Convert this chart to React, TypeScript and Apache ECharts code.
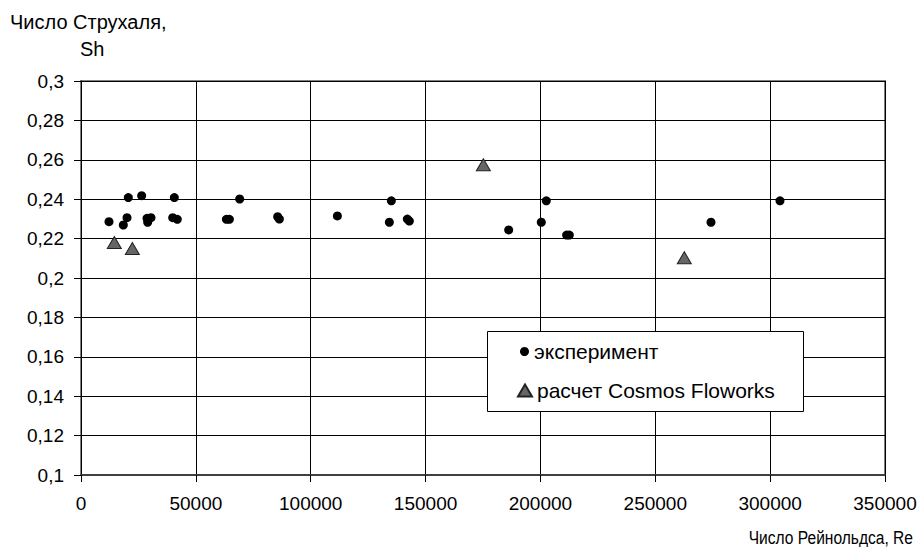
import React, { useEffect, useRef } from "react";
import * as echarts from "echarts";

const expRe = [12190, 18420, 20030, 20600, 26400, 28730, 29030, 30470, 39920, 40630, 41920, 63300, 64600, 69080, 85620, 86350, 111600, 134230, 135100, 142070, 142940, 186180, 200380, 202560, 211400, 212580, 274250, 304290];
const expSh = [0.2286, 0.2269, 0.2306, 0.2408, 0.2418, 0.2303, 0.2283, 0.2306, 0.2306, 0.2408, 0.2298, 0.2298, 0.2298, 0.2401, 0.2311, 0.2299, 0.2315, 0.2283, 0.2392, 0.2299, 0.2289, 0.2244, 0.2283, 0.2392, 0.2218, 0.2218, 0.2283, 0.2392];
const calcRe = [14500, 22340, 175150, 262630];
const calcSh = [0.218, 0.215, 0.2575, 0.2103];

const seriesNames = ["эксперимент", "расчет Cosmos Floworks"];
const yTitle1 = "Число Струхаля,";
const yTitle2 = "Sh";
const xTitle = "Число Рейнольдса, Re";

const FONT = "'Liberation Sans', Arial, Helvetica, sans-serif";
const FS = 19;
const FS_LEG = 21;

export default function App() {
  const ref = useRef<HTMLDivElement>(null);
  useEffect(() => {
    if (!ref.current) return;
    const chart = echarts.init(ref.current, undefined, { renderer: "svg" });
    chart.setOption({
      animation: false,
      backgroundColor: "#ffffff",
      textStyle: { fontFamily: FONT, color: "#000" },
      grid: {
        left: 81,
        top: 81,
        width: 804,
        height: 394,
        show: true,
        borderColor: "#808080",
        borderWidth: 2,
        backgroundColor: "transparent",
      },
      xAxis: {
        type: "value",
        min: 0,
        max: 350000,
        interval: 50000,
        axisLine: { show: true, onZero: false, lineStyle: { color: "#404040", width: 2 } },
        axisTick: { show: true, length: 7, lineStyle: { color: "#000", width: 1 } },
        axisLabel: {
          color: "#000",
          fontSize: FS,
          fontFamily: FONT,
          margin: 19,
          formatter: (v: number) => String(v),
        },
        splitLine: { show: true, lineStyle: { color: "#000", width: 1 } },
      },
      yAxis: {
        type: "value",
        min: 0.1,
        max: 0.3,
        interval: 0.02,
        axisLine: { show: true, onZero: false, lineStyle: { color: "#000", width: 1 } },
        axisTick: { show: true, length: 7, lineStyle: { color: "#000", width: 1 } },
        axisLabel: {
          color: "#000",
          fontSize: FS,
          fontFamily: FONT,
          margin: 17,
          formatter: (v: number) => String(parseFloat(v.toFixed(2))).replace(".", ","),
        },
        splitLine: { show: true, lineStyle: { color: "#000", width: 1 } },
      },
      legend: [
        {
          data: [{ name: seriesNames[0], icon: "circle" }],
          left: 520,
          top: 341,
          padding: 0,
          itemWidth: 9,
          itemHeight: 9,
          itemGap: 0,
          z: 20,
          textStyle: { fontSize: FS_LEG, fontFamily: FONT, color: "#000" },
          selectedMode: false,
        },
        {
          data: [{ name: seriesNames[1], icon: "triangle" }],
          left: 517,
          top: 380,
          padding: 0,
          itemWidth: 14,
          itemHeight: 12,
          itemGap: 0,
          z: 20,
          textStyle: { fontSize: FS_LEG, fontFamily: FONT, color: "#000" },
          selectedMode: false,
        },
      ],
      graphic: [
        {
          type: "rect",
          shape: { x: 487.5, y: 331.5, width: 316, height: 80 },
          style: { fill: "#fff", stroke: "#000", lineWidth: 1 },
          z: 10,
        },
        {
          type: "text",
          x: 10,
          y: 22,
          style: { text: yTitle1, fontSize: 20, fontFamily: FONT, fill: "#000", verticalAlign: "middle" },
        },
        {
          type: "text",
          x: 80,
          y: 49,
          style: { text: yTitle2, fontSize: 20, fontFamily: FONT, fill: "#000", verticalAlign: "middle" },
        },
        {
          type: "text",
          x: 913,
          y: 537,
          scaleX: 0.82,
          style: { text: xTitle, fontSize: 19, fontFamily: FONT, fill: "#000", align: "right", verticalAlign: "middle" },
        },
      ],
      series: [
        {
          name: seriesNames[0],
          type: "scatter",
          symbol: "circle",
          symbolSize: 9,
          itemStyle: { color: "#000", opacity: 1 },
          data: expRe.map((x, i) => [x, expSh[i]]),
          z: 3,
        },
        {
          name: seriesNames[1],
          type: "scatter",
          symbol: "triangle",
          symbolSize: [14, 12],
          itemStyle: { color: "#666666", borderColor: "#222", borderWidth: 1, opacity: 1 },
          data: calcRe.map((x, i) => [x, calcSh[i]]),
          z: 3,
        },
      ],
    });
    return () => chart.dispose();
  }, []);
  return (
    <div
      ref={ref}
      style={{ position: "absolute", left: 0, top: 0, width: 922, height: 547, background: "#fff" }}
    />
  );
}
